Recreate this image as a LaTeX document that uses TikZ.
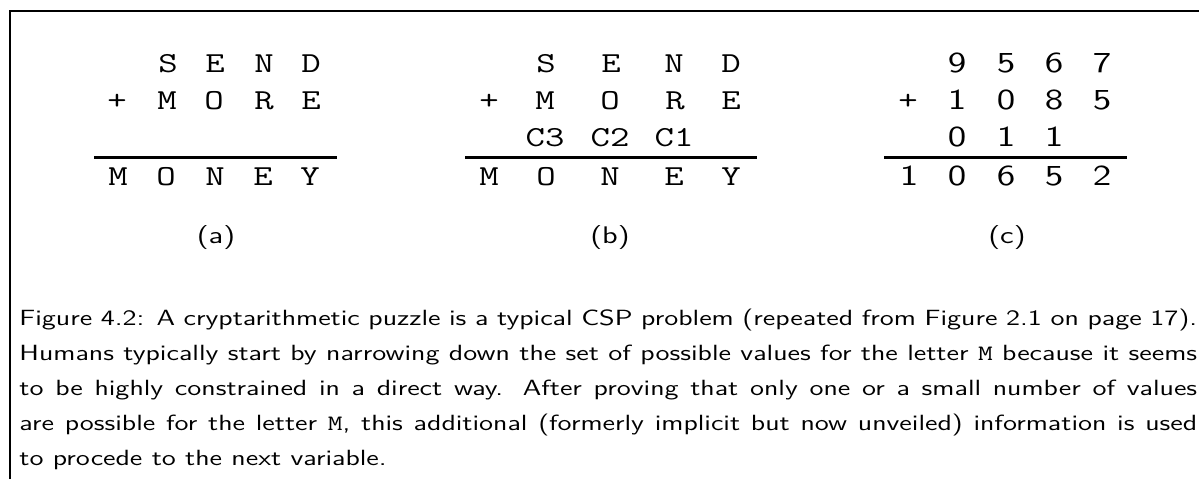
\documentclass[tikz,border=0pt]{standalone}
\usepackage{graphicx}
\newcommand{\hsx}[1]{\scalebox{1.3}[1]{#1}}
\begin{document}
\begin{tikzpicture}[x=0.5pt,y=-0.5pt,
  ch/.style={anchor=base, inner sep=0pt, font=\fontsize{14.5}{17}\selectfont\ttfamily},
  dg/.style={anchor=base, inner sep=0pt, font=\fontsize{14.5}{17}\selectfont\sffamily},
  lbl/.style={anchor=base, inner sep=0pt, font=\fontsize{12}{14}\selectfont\sffamily},
  sumrule/.style={line width=1.3pt},
  frameline/.style={line width=1.3pt, line join=miter}]
\useasboundingbox (0,0) rectangle (1199,479);
\draw[frameline] (10,479) -- (10,11) -- (1199,11);
% (a)
\foreach \n/\x/\t in {s/168/S, e/215/E, n/264/N, d/311/D}
  \node[ch] (a1\n) at (\x,72) {\hsx{\t}};
\foreach \n/\x/\t in {p/117/+, m/167/M, o/214/O, r/264/R, e/311/E}
  \node[ch] (a2\n) at (\x,109) {\hsx{\t}};
\foreach \n/\x/\t in {m/118/M, o/166/O, n/215/N, e/263/E, y/310/Y}
  \node[ch] (a4\n) at (\x,185) {\hsx{\t}};
\draw[sumrule] (94,157.5) -- (337,157.5);
\node[lbl] (la) at (216,243) {\hsx{(a)}};
% (b)
\foreach \n/\x/\t in {s/546/S, e/611/E, n/674/N, d/731/D}
  \node[ch] (b1\n) at (\x,72) {\hsx{\t}};
\foreach \n/\x/\t in {p/489/+, m/545/M, o/610/O, r/675/R, e/731/E}
  \node[ch] (b2\n) at (\x,109) {\hsx{\t}};
\foreach \n/\x/\t in {c/545/C3, b/610/C2, a/674/C1}
  \node[ch] (b3\n) at (\x,146.5) {\hsx{\t}};
\foreach \n/\x/\t in {m/489/M, o/546/O, n/610/N, e/674/E, y/731/Y}
  \node[ch] (b4\n) at (\x,185) {\hsx{\t}};
\draw[sumrule] (465,157.5) -- (757,157.5);
\node[lbl] (lb) at (610,243) {\hsx{(b)}};
% (c)
\foreach \n/\x/\t in {s/957/9, e/1006/5, n/1054/6, d/1102/7}
  \node[dg] (c1\n) at (\x,72) {\hsx{\t}};
\node[ch] (c2p) at (908,109) {\hsx{+}};
\foreach \n/\x/\t in {m/957/1, o/1006/0, r/1054/8, e/1102/5}
  \node[dg] (c2\n) at (\x,109) {\hsx{\t}};
\foreach \n/\x/\t in {c/957/0, b/1006/1, a/1054/1}
  \node[dg] (c3\n) at (\x,146.5) {\hsx{\t}};
\foreach \n/\x/\t in {m/909/1, o/957/0, n/1006/6, e/1054/5, y/1102/2}
  \node[dg] (c4\n) at (\x,185) {\hsx{\t}};
\draw[sumrule] (884,157.5) -- (1127,157.5);
\node[lbl] (lc) at (1007,243) {\hsx{(c)}};
% caption
\node[anchor=base west, inner sep=0pt] (cap) at (19,325) {\hsx{\parbox[t]{453pt}{\fontsize{11}{17.5}\selectfont\sffamily\parindent=0pt
Figure 4.2: A cryptarithmetic puzzle is a typical CSP problem (repeated from Figure 2.1 on page 17).\linebreak
Humans typically start by narrowing down the set of possible values for the letter \texttt{M} because it seems\linebreak
to be highly constrained in a direct way. After proving that only one or a small number of values\linebreak
are possible for the letter \texttt{M}, this additional (formerly implicit but now unveiled) information is used\linebreak
to procede to the next variable.}}};
\end{tikzpicture}
\end{document}
